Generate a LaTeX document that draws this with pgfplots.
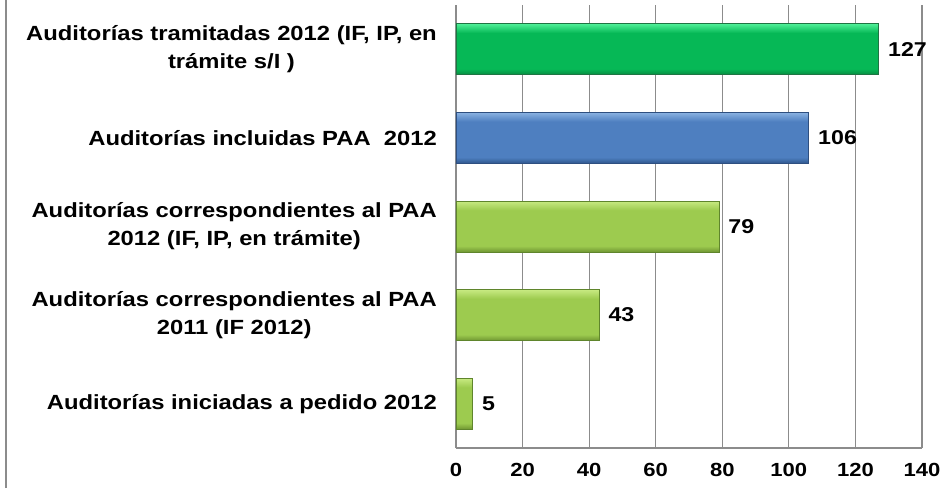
\documentclass[border=0pt]{standalone}
\usepackage{fontspec}
\setmainfont{Liberation Sans}[FakeStretch=1.16]
\usepackage{pgfplots}
\pgfplotsset{compat=1.18}

\definecolor{gtop}{HTML}{4EEF96}
\definecolor{gmid}{HTML}{06B856}
\definecolor{gbot}{HTML}{078A40}
\definecolor{gedge}{HTML}{1F7443}
\definecolor{btop}{HTML}{8AB2E2}
\definecolor{bmid}{HTML}{4E7FC0}
\definecolor{bbot}{HTML}{2F568C}
\definecolor{bedge}{HTML}{2E4F80}
\definecolor{ltop}{HTML}{C8EA82}
\definecolor{lmid}{HTML}{9DCB4F}
\definecolor{lbot}{HTML}{6F9632}
\definecolor{ledge}{HTML}{5F852C}
\definecolor{gridgray}{HTML}{8C8C8C}

% bevel-like bar fill: light top band, flat body, dark bottom band
% (tikz fits the 25bp..75bp part of a shading to the path)
\pgfdeclareverticalshading{limebar}{100bp}{color(0bp)=(lbot); color(25bp)=(lbot); color(31bp)=(lmid); color(66bp)=(lmid); color(75bp)=(ltop); color(100bp)=(ltop)}
\pgfdeclareverticalshading{bluebar}{100bp}{color(0bp)=(bbot); color(25bp)=(bbot); color(31bp)=(bmid); color(66bp)=(bmid); color(75bp)=(btop); color(100bp)=(btop)}
\pgfdeclareverticalshading{greenbar}{100bp}{color(0bp)=(gbot); color(25bp)=(gbot); color(31bp)=(gmid); color(66bp)=(gmid); color(75bp)=(gtop); color(100bp)=(gtop)}

\newcommand{\lab}{\fontsize{20.5}{28}\selectfont\bfseries}
\newcommand{\tlab}{\fontsize{19}{24}\selectfont\bfseries}
\newcommand{\vlab}{\fontsize{20}{24}\selectfont\bfseries}

\begin{document}
\begin{tikzpicture}[x=1pt,y=1pt]
\path[use as bounding box] (0,0) rectangle (946,488);
\draw[gridgray, line width=1.5pt] (6,0) -- (6,488);
\begin{axis}[
    at={(456pt,40pt)}, anchor=south west,
    scale only axis,
    width=466pt, height=443pt,
    xbar, bar width=51pt, bar shift=0pt,
    xmin=0, xmax=140, ymin=-0.5, ymax=4.5,
    xtick={0,20,...,140},
    ytick={0,1,2,3,4},
    yticklabels={
        Auditorías iniciadas a pedido 2012,
        {Auditorías correspondientes al PAA\\2011 (IF 2012)},
        {Auditorías correspondientes al PAA\\2012 (IF, IP, en trámite)},
        Auditorías incluidas PAA\ \ 2012,
        {Auditorías tramitadas 2012 (IF, IP, en\\trámite s/I )}
    },
    axis x line*=bottom, axis y line*=left,
    axis line style={gridgray, line width=1.3pt},
    xmajorgrids,
    grid style={gridgray, line width=1.1pt},
    major tick length=0pt,
    /pgf/number format/assume math mode=true,
    yticklabel style={font=\lab, align=center, anchor=east, inner sep=0pt, xshift=-19pt},
    xticklabel style={font=\tlab, anchor=north, inner sep=0pt, yshift=-15pt},
    nodes near coords,
    nodes near coords style={anchor=west, inner sep=0pt, xshift=9pt, font=\vlab},
    clip=false,
]
\addplot[shading=limebar, shade, draw=ledge, line width=0.8pt] coordinates {(5,0)};
\addplot[shading=limebar, shade, draw=ledge, line width=0.8pt] coordinates {(43,1)};
\addplot[shading=limebar, shade, draw=ledge, line width=0.8pt] coordinates {(79,2)};
\addplot[shading=bluebar, shade, draw=bedge, line width=0.8pt] coordinates {(106,3)};
\addplot[shading=greenbar, shade, draw=gedge, line width=0.8pt] coordinates {(127,4)};
\end{axis}
\end{tikzpicture}
\end{document}
